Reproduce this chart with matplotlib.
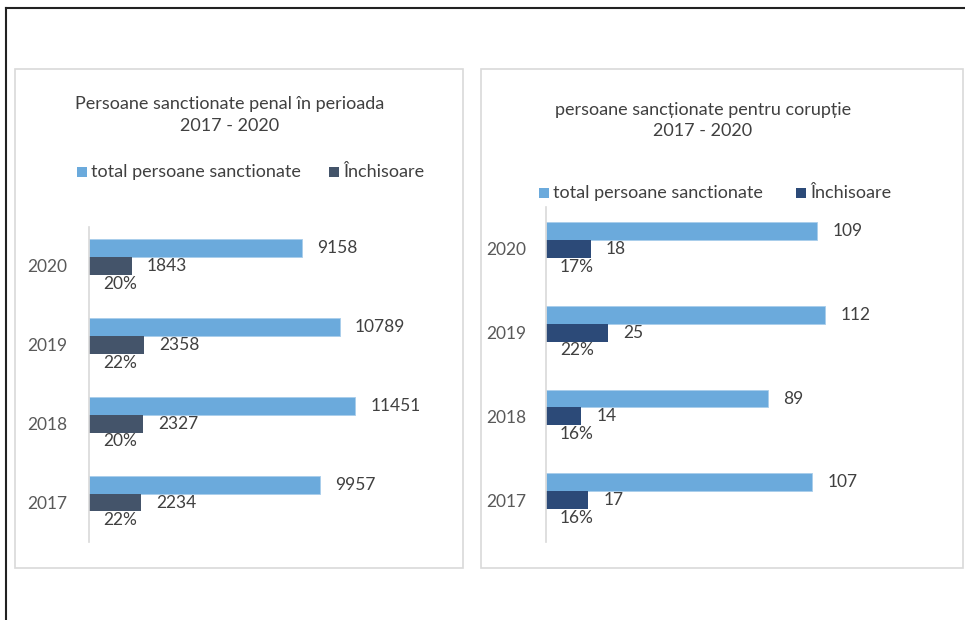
import matplotlib.pyplot as plt
from matplotlib.patches import Rectangle
from matplotlib.lines import Line2D

plt.rcParams['font.family'] = ['Lato', 'DejaVu Sans']

# date
years = ["2020", "2019", "2018", "2017"]
total_penal = [9158, 10789, 11451, 9957]
inchisoare_penal = [1843, 2358, 2327, 2234]
pct_penal = ["20%", "22%", "20%", "22%"]

total_coruptie = [109, 112, 89, 107]
inchisoare_coruptie = [18, 25, 14, 17]
pct_coruptie = ["17%", "22%", "16%", "16%"]

W, H = 965, 620
LIGHT = "#6BAADC"
DARK_L = "#44546A"
DARK_R = "#2C4A78"
TXT = "#404040"

fig = plt.figure(figsize=(W / 100, H / 100), dpi=100)


def box(x0, y0, x1, y1):
    # pixel box (from top-left) -> figure fraction rect
    return [x0 / W, 1 - y1 / H, (x1 - x0) / W, (y1 - y0) / H]


def fx(x):
    return x / W


def fy(y):
    return 1 - y / H


# outer black frame (top and left)
fig.add_artist(Line2D([fx(6), 1], [fy(8), fy(8)], color="#222222", lw=1.5))
fig.add_artist(Line2D([fx(6), fx(6)], [fy(8), 0], color="#222222", lw=1.5))

# panel borders, behind the axes
for x0, x1 in [(15, 463), (481, 963)]:
    fig.add_artist(Rectangle((fx(x0), fy(568)), fx(x1) - fx(x0), fy(69) - fy(568),
                             facecolor="white", edgecolor="#D9D9D9", lw=1.2, zorder=-5))


def legend(y, x_sq1, x_sq2, dark):
    for xs, col, lab in [(x_sq1, LIGHT, "total persoane sanctionate"),
                         (x_sq2, dark, "Închisoare")]:
        fig.add_artist(Rectangle((fx(xs), fy(y + 5)), 10 / W, 10 / H,
                                 facecolor=col, edgecolor="none"))
        fig.text(fx(xs + 14), fy(y), lab, fontsize=13, color=TXT,
                 ha="left", va="center")


def panel(rect, total, inch, pct, dark, xmax, h, pad):
    ax = fig.add_axes(rect)
    ax.set_zorder(1)
    ys = list(range(len(years)))
    ax.barh([y - h for y in ys], total, height=h, color=LIGHT, edgecolor="#A9CDEB", lw=0.6)
    ax.barh(ys, inch, height=h, color=dark)
    for y, t, i, p in zip(ys, total, inch, pct):
        ax.annotate(str(t), (t, y - h), xytext=(11, 0), textcoords="offset points",
                    va="center", ha="left", fontsize=12.5, color=TXT)
        ax.annotate(str(i), (i, y), xytext=(11, 0), textcoords="offset points",
                    va="center", ha="left", fontsize=12.5, color=TXT)
        ax.annotate(p, (0, y + h), xytext=(10, 0), textcoords="offset points",
                    va="center", ha="left", fontsize=12.5, color=TXT)
    ax.set_ylim(len(years) - 0.5, -0.5)
    ax.set_xlim(0, xmax)
    ax.set_yticks(ys)
    ax.set_yticklabels(years, fontsize=12.5, color="#595959")
    ax.tick_params(axis="y", length=0, pad=pad)
    ax.set_xticks([])
    for s in ["top", "right", "bottom"]:
        ax.spines[s].set_visible(False)
    ax.spines["left"].set_color("#D9D9D9")
    ax.spines["left"].set_linewidth(1.2)
    ax.patch.set_alpha(0)
    return ax


# stanga: persoane sanctionate penal
panel(box(89, 226.5, 437, 542), total_penal, inchisoare_penal, pct_penal,
      DARK_L, 348 / 0.02323, 0.225, 15.5)
fig.text(fx(230), fy(104), "Persoane sanctionate penal în perioada", fontsize=13,
         color=TXT, ha="center", va="center")
fig.text(fx(230), fy(126), "2017 - 2020", fontsize=13, color=TXT, ha="center", va="center")
legend(172, 77, 329, DARK_L)

# dreapta: persoane sanctionate pentru coruptie
panel(box(546, 207, 900, 542), total_coruptie, inchisoare_coruptie, pct_coruptie,
      DARK_R, 354 / 2.49, 0.212, 14)
fig.text(fx(703), fy(110), "persoane sancționate pentru corupție", fontsize=13,
         color=TXT, ha="center", va="center")
fig.text(fx(703), fy(131), "2017 - 2020", fontsize=13, color=TXT, ha="center", va="center")
legend(193, 539, 796, DARK_R)

fig.savefig("out.png", dpi=100)
